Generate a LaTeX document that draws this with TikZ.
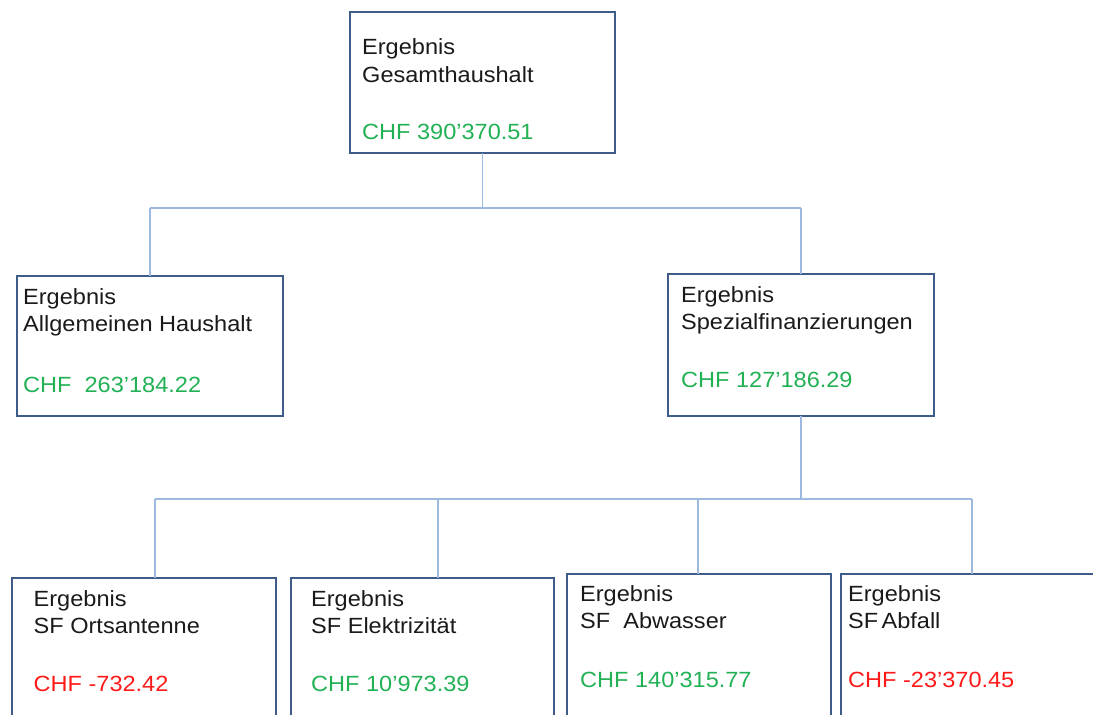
\documentclass[tikz,border=0pt]{standalone}
\usepackage{fontspec}
\setmainfont{Liberation Sans}[FakeStretch=1.07]
\definecolor{boxc}{HTML}{3D5C89}
\definecolor{connc}{HTML}{9DB9DF}
\definecolor{txtc}{HTML}{1A1A1A}
\definecolor{posc}{HTML}{22B155}
\definecolor{negc}{HTML}{FF1A1A}
\tikzset{
  box/.style={draw=boxc, line width=2.4pt, fill=white, rectangle, anchor=north west, inner sep=0pt, outer sep=0pt},
  conn/.style={draw=connc, line width=1.6pt},
  lbl/.style={anchor=base west, inner sep=0pt, text=txtc, font=\fontsize{22pt}{26pt}\selectfont},
  posval/.style={lbl, text=posc},
  negval/.style={lbl, text=negc}
}
\begin{document}
\begin{tikzpicture}[x=1pt, y=-1pt]
\clip (0,0) rectangle (1093,715);
\fill[white] (0,0) rectangle (1093,715);
% boxes
\node[box, minimum width=265pt, minimum height=141pt] (top) at (350,12) {};
\node[box, minimum width=266pt, minimum height=140pt] (lbox) at (17,276) {};
\node[box, minimum width=266pt, minimum height=142pt] (rbox) at (668,274) {};
\node[box, minimum width=264pt, minimum height=150pt] (b1) at (12,578) {};
\node[box, minimum width=263pt, minimum height=150pt] (b2) at (291,578) {};
\node[box, minimum width=264pt, minimum height=150pt] (b3) at (567,574) {};
\node[box, minimum width=280pt, minimum height=150pt] (b4) at (841,574) {};
% junctions
\coordinate (j1l) at (150,208);
\coordinate (j1r) at (801,208);
\coordinate (j1) at (top.south |- j1l);
\coordinate (j2a) at (155,499);
\coordinate (j2b) at (438,499);
\coordinate (j2c) at (698,499);
\coordinate (j2d) at (972,499);
\coordinate (j2) at (j1r |- j2a);
% connectors
\draw[conn] (top.south) -- (j1);
\draw[conn] (j1l) -- (j1r);
\draw[conn] (j1l) -- (j1l |- lbox.north);
\draw[conn] (j1r) -- (j1r |- rbox.north);
\draw[conn] (j1r |- rbox.south) -- (j2);
\draw[conn] (j2a) -- (j2d);
\draw[conn] (j2a) -- (j2a |- b1.north);
\draw[conn] (j2b) -- (j2b |- b2.north);
\draw[conn] (j2c) -- (j2c |- b3.north);
\draw[conn] (j2d) -- (j2d |- b4.north);
% texts
\node[lbl] (t1) at (362,54) {Ergebnis};
\node[lbl] (t2) at (362,82) {Gesamthaushalt};
\node[posval] (t3) at (362,139) {CHF 390’370.51};
\node[lbl] (l1) at (23,304) {Ergebnis};
\node[lbl] (l2) at (23,331.5) {Allgemeinen Haushalt};
\node[posval] (l3) at (23,392.5) {CHF\ \ 263’184.22};
\node[lbl] (r1) at (681,302) {Ergebnis};
\node[lbl] (r2) at (681,329) {Spezialfinanzierungen};
\node[posval] (r3) at (681,387) {CHF 127’186.29};
\node[lbl] (a1) at (33.5,606) {Ergebnis};
\node[lbl] (a2) at (33.5,633.5) {SF Ortsantenne};
\node[negval] (a3) at (33.5,691) {CHF -732.42};
\node[lbl] (c1) at (311,606) {Ergebnis};
\node[lbl] (c2) at (311,633.5) {SF Elektrizität};
\node[posval] (c3) at (311,691) {CHF 10’973.39};
\node[lbl] (d1) at (580,601) {Ergebnis};
\node[lbl] (d2) at (580,628.5) {SF\ \ Abwasser};
\node[posval] (d3) at (580,687) {CHF 140’315.77};
\node[lbl] (e1) at (848,601) {Ergebnis};
\node[lbl] (e2) at (848,628.5) {SF\hspace{0.15em}Abfall};
\node[negval] (e3) at (848,687) {CHF -23’370.45};
\end{tikzpicture}
\end{document}
